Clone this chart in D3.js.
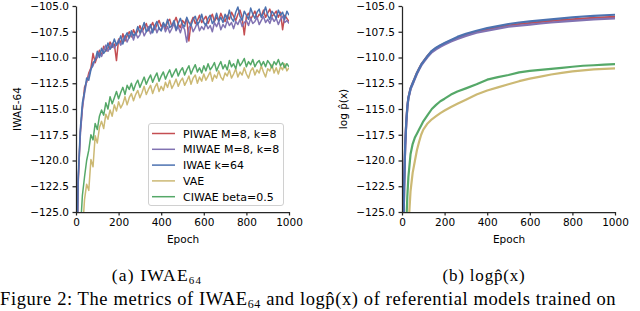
<!DOCTYPE html>
<html><head><meta charset="utf-8">
<script src="https://cdn.jsdelivr.net/npm/d3@7/dist/d3.min.js"></script>
<style>
body{margin:0;background:#fff;}
svg{display:block;}
</style></head>
<body>
<svg id="c" width="640" height="311"></svg>
<script>
// ---------- DATA ----------
const seriesNames = ["PIWAE M=8, k=8", "MIWAE M=8, k=8", "IWAE k=64", "VAE", "CIWAE beta=0.5"];
const seriesColors = ["#C44E52", "#8172B2", "#4C72B0", "#CCB974", "#55A868"];
const xTicks = [0, 200, 400, 600, 800, 1000];
const yTicks = [-125, -122.5, -120, -117.5, -115, -112.5, -110, -107.5, -105];

// Left panel (IWAE-64), every 10 epochs
const epochsA = [0,10,20,30,40,50,60,70,80,90,100,110,120,130,140,150,160,170,180,190,200,210,220,230,240,250,260,270,280,290,300,310,320,330,340,350,360,370,380,390,400,410,420,430,440,450,460,470,480,490,500,510,520,530,540,550,560,570,580,590,600,610,620,630,640,650,660,670,680,690,700,710,720,730,740,750,760,770,780,790,800,810,820,830,840,850,860,870,880,890,900,910,920,930,940,950,960,970,980,990,1000];
const piwaeA = [
-136,-122.4,-117.3,-115.0,-112.9,-112.4,-111.5,-111.0,-109.6,-110.5,
-109.9,-109.3,-109.8,-108.9,-109.4,-109.1,-108.5,-109.0,-108.7,-110.3,
-108.2,-108.6,-107.7,-108.4,-107.9,-107.5,-108.0,-107.3,-107.8,-107.4,
-106.9,-107.5,-107.1,-106.7,-107.4,-107.0,-106.6,-107.3,-106.8,-106.4,
-107.0,-106.7,-107.2,-106.5,-106.3,-107.0,-106.6,-106.1,-106.8,-107.1,
-106.4,-106.7,-106.2,-108.4,-106.6,-106.1,-106.7,-106.4,-105.9,-106.6,
-106.3,-106.0,-106.7,-106.2,-105.8,-106.5,-106.1,-106.4,-105.7,-106.2,
-106.5,-105.9,-106.3,-105.6,-106.0,-106.4,-105.8,-105.4,-106.1,-107.8,
-106.0,-105.7,-106.3,-105.9,-105.5,-106.2,-105.8,-106.0,-105.4,-106.1,
-105.7,-105.3,-106.0,-105.8,-105.5,-106.1,-105.6,-107.3,-105.9,-106.2,
-106.5];
const miwaeA = [
-137,-122.1,-117.7,-114.9,-113.5,-112.3,-111.8,-111.1,-110.8,-110.2,
-110.0,-109.5,-109.9,-109.3,-108.8,-109.4,-109.0,-108.6,-109.1,-108.7,
-108.3,-108.8,-108.4,-107.9,-108.5,-108.0,-107.7,-108.3,-107.6,-108.1,
-107.8,-107.2,-107.9,-107.5,-107.0,-107.7,-107.3,-106.9,-107.6,-107.1,
-107.4,-106.8,-107.5,-107.0,-107.6,-107.2,-106.7,-107.4,-107.0,-107.6,
-106.9,-107.3,-108.5,-107.1,-106.8,-107.5,-107.1,-106.6,-107.4,-107.0,
-107.3,-106.7,-107.2,-106.9,-107.5,-106.6,-107.0,-106.5,-107.3,-106.8,
-107.1,-106.4,-106.9,-106.6,-107.2,-106.5,-106.8,-106.3,-107.0,-106.6,
-106.4,-106.9,-106.2,-106.7,-106.5,-106.1,-106.8,-106.4,-106.0,-106.6,
-106.3,-106.7,-106.1,-106.5,-106.2,-106.8,-106.3,-106.0,-106.6,-106.4,
-106.7];
const iwaeA = [
-135,-121.8,-117.0,-114.4,-113.3,-112.0,-112.2,-111.2,-110.5,-110.3,
-109.4,-110.0,-109.1,-109.6,-109.3,-108.6,-109.2,-108.9,-108.2,-108.8,
-108.5,-107.9,-108.7,-108.0,-107.6,-108.1,-107.4,-107.9,-107.7,-107.0,
-107.6,-107.2,-106.6,-107.5,-107.3,-106.8,-107.6,-106.9,-106.5,-107.2,
-107.4,-106.6,-107.0,-106.3,-107.1,-106.9,-106.4,-107.3,-106.7,-106.2,
-106.8,-107.0,-106.1,-106.6,-106.9,-106.3,-106.0,-106.8,-106.5,-105.8,
-106.6,-106.9,-106.2,-105.9,-106.7,-106.4,-105.7,-106.5,-106.1,-106.6,
-105.8,-106.3,-105.4,-106.2,-106.5,-105.6,-105.1,-106.0,-106.4,-105.5,
-105.9,-106.3,-105.2,-105.8,-106.2,-105.6,-105.3,-106.1,-105.7,-105.1,
-105.9,-106.3,-105.5,-105.8,-106.2,-105.4,-105.9,-105.6,-106.3,-105.5,
-105.9];
const vaeA = [
-140,-135,-130,-127,-123.8,-122.3,-122.9,-119.9,-120.6,-117.6,
-118.3,-116.8,-116.2,-116.9,-115.5,-116.0,-115.1,-115.7,-114.6,-115.2,
-114.3,-114.9,-114.5,-113.8,-114.6,-113.9,-113.5,-114.2,-113.6,-113.2,
-113.9,-113.4,-112.8,-113.6,-113.1,-112.7,-113.5,-112.9,-112.5,-113.3,
-112.8,-113.2,-112.4,-112.9,-112.2,-113.0,-112.6,-112.1,-112.8,-112.3,
-112.0,-112.7,-112.3,-111.8,-112.6,-112.0,-111.7,-112.5,-111.9,-112.3,
-111.6,-112.2,-111.8,-111.4,-112.3,-111.7,-112.0,-111.3,-111.9,-112.2,
-111.5,-111.8,-111.2,-112.0,-111.6,-111.1,-111.9,-111.4,-111.7,-111.0,
-111.6,-112.0,-111.3,-111.0,-111.7,-111.2,-111.5,-110.8,-111.4,-111.9,
-111.1,-111.3,-110.7,-111.5,-111.0,-111.6,-110.9,-111.2,-110.6,-111.3,
-111.0];
const ciwaeA = [
-140,-134,-127,-123.4,-121.6,-120.0,-119.0,-117.5,-118.0,-116.4,
-117.0,-115.7,-115.1,-115.6,-114.4,-115.0,-113.8,-114.5,-113.9,-113.3,
-114.0,-113.4,-112.9,-113.6,-112.7,-113.1,-112.5,-113.2,-112.6,-112.2,
-112.9,-112.4,-111.9,-112.6,-112.1,-111.7,-112.4,-111.9,-111.5,-112.3,
-111.8,-111.4,-112.1,-111.6,-111.2,-111.9,-111.5,-111.1,-111.8,-111.3,
-111.0,-111.7,-111.2,-110.8,-111.6,-111.1,-110.7,-111.4,-111.0,-111.5,
-110.8,-111.3,-110.6,-111.2,-110.9,-110.5,-111.3,-110.8,-110.4,-111.1,
-110.7,-111.2,-110.3,-110.9,-110.6,-111.1,-110.2,-110.8,-110.5,-110.1,
-110.9,-110.4,-110.7,-110.2,-110.9,-110.5,-110.3,-110.8,-110.4,-110.9,
-110.3,-110.6,-111.0,-110.4,-110.7,-110.2,-110.8,-110.5,-111.0,-110.6,
-110.9];

// Right panel (log p(x)), smooth curves
const epochsB = [0,5,10,15,20,25,30,40,50,60,70,80,90,100,120,140,160,180,200,230,260,300,350,400,450,500,550,600,650,700,750,800,850,900,950,1000];
const piwaeB = [-140,-130,-122.6,-118.5,-116.3,-114.8,-113.9,-113.0,-112.5,-112.0,-111.5,-111.1,-110.7,-110.4,-109.85,-109.4,-109.1,-108.85,-108.65,-108.35,-108.1,-107.8,-107.5,-107.3,-107.1,-106.9,-106.75,-106.65,-106.55,-106.45,-106.38,-106.3,-106.22,-106.15,-106.1,-106.05];
const miwaeB = [-140,-130,-122.6,-118.6,-116.4,-114.9,-114.0,-113.1,-112.6,-112.1,-111.6,-111.2,-110.8,-110.5,-109.95,-109.5,-109.2,-108.95,-108.75,-108.45,-108.2,-107.9,-107.6,-107.4,-107.2,-107.0,-106.9,-106.8,-106.7,-106.6,-106.52,-106.45,-106.38,-106.3,-106.25,-106.2];
const iwaeB = [-140,-130,-122.6,-118.5,-116.3,-114.8,-113.9,-113.0,-112.5,-112.0,-111.5,-111.1,-110.7,-110.4,-109.85,-109.35,-109.05,-108.8,-108.6,-108.3,-108.0,-107.7,-107.4,-107.15,-106.95,-106.75,-106.6,-106.5,-106.4,-106.3,-106.2,-106.1,-106.02,-105.95,-105.9,-105.85];
const vaeB = [-150,-145,-140,-135,-131,-128.5,-126.5,-123.0,-121.2,-120.1,-119.0,-118.2,-117.5,-117.0,-116.4,-116.0,-115.7,-115.4,-115.15,-114.8,-114.5,-114.1,-113.6,-113.2,-112.9,-112.6,-112.3,-112.05,-111.85,-111.65,-111.5,-111.35,-111.25,-111.15,-111.1,-111.05];
const ciwaeB = [-145,-140,-133,-129.5,-126.2,-123.5,-121.6,-119.4,-118.4,-117.8,-117.4,-117.0,-116.6,-116.2,-115.6,-115.0,-114.6,-114.25,-114.0,-113.6,-113.3,-113.0,-112.6,-112.15,-111.9,-111.7,-111.45,-111.3,-111.2,-111.1,-111.0,-110.9,-110.8,-110.75,-110.7,-110.65];

// ---------- DRAW ----------
const svg = d3.select("#c");
const FONT = "'DejaVu Sans', sans-serif";
const SERIF = "'Liberation Serif', 'DejaVu Serif', serif";
const AXC = "#262626";

function panel(id, x0, x1, epochs, data, lw, yLabel, yLabelX) {
  const top = 6, bottom = 212;
  const x = d3.scaleLinear().domain([0, 1000]).range([x0, x1]);
  const y = d3.scaleLinear().domain([-125, -105]).range([bottom, top]);
  const g = svg.append("g");
  g.append("clipPath").attr("id", id).append("rect")
    .attr("x", x0).attr("y", top).attr("width", x1 - x0).attr("height", bottom - top);
  const line = d3.line().x((d, i) => x(epochs[i])).y(d => y(d));
  const lg = g.append("g").attr("clip-path", `url(#${id})`);
  data.forEach((s, k) => {
    lg.append("path").attr("d", line(s)).attr("fill", "none")
      .attr("stroke", seriesColors[k]).attr("stroke-width", lw)
      .attr("stroke-linejoin", "round");
  });
  const ax = g.append("g").attr("transform", `translate(0,${bottom})`)
    .call(d3.axisBottom(x).tickValues(xTicks).tickFormat(d3.format("d")).tickSize(3.5).tickPadding(3.5).tickSizeOuter(0));
  const ay = g.append("g").attr("transform", `translate(${x0},0)`)
    .call(d3.axisLeft(y).tickValues(yTicks).tickFormat(d3.format(".1f")).tickSize(3.5).tickPadding(3.5).tickSizeOuter(0));
  [ax, ay].forEach(a => {
    a.select(".domain").attr("stroke", AXC).attr("stroke-width", 1.25);
    a.selectAll(".tick line").attr("stroke", AXC).attr("stroke-width", 1.25);
    a.selectAll(".tick text").attr("fill", "#000").attr("font-family", FONT).attr("font-size", 10.5);
  });
  g.append("text").attr("x", (x0 + x1) / 2 + 0.5).attr("y", 243)
    .attr("text-anchor", "middle").attr("font-family", FONT).attr("font-size", 10.5)
    .attr("fill", "#000").text("Epoch");
  g.append("text").attr("transform", `translate(${yLabelX},109) rotate(-90)`)
    .attr("text-anchor", "middle").attr("font-family", FONT).attr("font-size", 10.5)
    .attr("fill", "#000").text(yLabel);
  return g;
}

panel("clipA", 76, 289, epochsA, [piwaeA, miwaeA, iwaeA, vaeA, ciwaeA], 1.5, "IWAE-64", 21);
panel("clipB", 402, 615, epochsB, [piwaeB, miwaeB, iwaeB, vaeB, ciwaeB], 2.2, "log p\u0302(x)", 347);

// Legend (left panel)
const leg = svg.append("g");
leg.append("rect").attr("x", 148.5).attr("y", 123.5).attr("width", 135).attr("height", 82)
  .attr("rx", 2.5).attr("fill", "#fff").attr("fill-opacity", 0.85)
  .attr("stroke", "#d0d0d0").attr("stroke-width", 1);
seriesNames.forEach((n, i) => {
  const yy = 133.5 + i * 15.8;
  leg.append("line").attr("x1", 152).attr("x2", 175).attr("y1", yy).attr("y2", yy)
    .attr("stroke", seriesColors[i]).attr("stroke-width", 1.5);
  leg.append("text").attr("x", 183).attr("y", yy + 4).attr("font-family", FONT)
    .attr("font-size", 11).attr("fill", "#000").text(n);
});

// Captions
const capA = svg.append("text").attr("x", 157).attr("y", 281).attr("text-anchor", "middle")
  .attr("font-family", SERIF).attr("font-size", 17.5).attr("letter-spacing", 1.2).attr("fill", "#000");
capA.append("tspan").text("(a) IWAE");
capA.append("tspan").attr("font-size", 11).attr("dy", 2.5).text("64");

svg.append("text").attr("x", 484).attr("y", 281).attr("text-anchor", "middle")
  .attr("font-family", SERIF).attr("font-size", 17).attr("letter-spacing", 0.8)
  .attr("fill", "#000").text("(b) logp\u0302(x)");

const cap = svg.append("text").attr("x", 0).attr("y", 305).attr("font-family", SERIF)
  .attr("font-size", 18.5).attr("letter-spacing", 0.6).attr("fill", "#000");
cap.append("tspan").text("Figure 2: The metrics of IWAE");
cap.append("tspan").attr("font-size", 12).attr("dy", 3).text("64");
cap.append("tspan").attr("dy", -3).text(" and logp\u0302(x) of referential models trained on");
</script>
</body></html>
